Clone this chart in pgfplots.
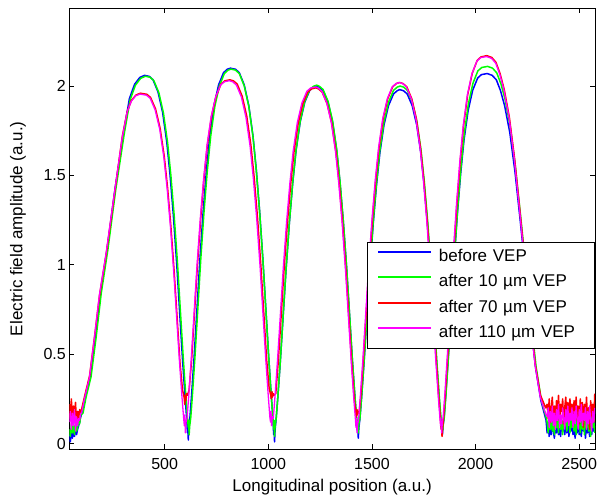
\documentclass[border=0pt]{standalone}
\usepackage{fontspec}
\setmainfont{Liberation Sans}
\usepackage{pgfplots}
\pgfplotsset{compat=1.18}
\definecolor{vblue}{RGB}{0,0,255}
\definecolor{vgreen}{RGB}{0,255,0}
\definecolor{vred}{RGB}{255,0,0}
\definecolor{vmag}{RGB}{255,0,255}

\begin{document}
\begin{tikzpicture}
\useasboundingbox (-69.3pt,-49.7pt) rectangle (527.7pt,449.3pt);
\begin{axis}[
  at={(0pt,0pt)}, anchor=south west,
  scale only axis, width=525.7pt, height=441pt,
  xmin=40, xmax=2576, ymin=-0.032, ymax=2.435,
  xtick={500,1000,1500,2000,2500},
  ytick={0,0.5,1,1.5,2},
  /pgf/number format/1000 sep={},
  /pgf/number format/assume math mode=true,
  tick align=inside, major tick length=5pt,
  tick style={black, line width=0.9pt},
  axis line style={black, line width=0.9pt},
  ticklabel style={font=\fontsize{16}{19}\selectfont},
  xticklabel style={yshift=-5pt},
  xlabel={Longitudinal position (a.u.)},
  ylabel={Electric field amplitude (a.u.)},
  label style={font=\fontsize{17}{20}\selectfont},
  xlabel style={at={(axis description cs:0.5,0)}, anchor=center, yshift=-38.3pt},
  ylabel style={at={(axis description cs:0,0.5)}, anchor=center, rotate=0, yshift=51.3pt},
  legend cell align=left,
  legend image code/.code={\draw[#1, line width=1.9pt] (0pt,5.5pt) -- (53.3pt,5.5pt);},
  legend style={
    at={(rel axis cs:0.5657,0.4707)}, anchor=north west,
    draw=black, line width=0.8pt, fill=white,
    font=\fontsize{17}{20}\selectfont,
    inner xsep=10pt, inner ysep=6.5pt,
    row sep=8.5pt,
    nodes={inner sep=0pt, text height=12.5pt, text depth=4.5pt},
    /tikz/every odd column/.append style={column sep=6.7pt},
    /tikz/every even column/.append style={text width=145.6pt},
  },
]
\addlegendimage{vblue}\addlegendentry{before VEP}
\addlegendimage{vgreen}\addlegendentry{after 10 µm VEP}
\addlegendimage{vred}\addlegendentry{after 70 µm VEP}
\addlegendimage{vmag}\addlegendentry{after 110 µm VEP}

% before VEP
\addplot[vblue, line width=1.5pt, line join=round, forget plot] coordinates {
(40,0.05)(45,0.01)(50,0.07)(55,0.03)(60,0.08)(65,0.04)(70,0.09)(75,0.05)(80,0.08)(85,0.10)(90,0.12)(95,0.15)
(101,0.17)(117,0.26)(141,0.374)(166,0.60)(190,0.84)(222,1.084)(260,1.42)(302,1.74)(330,1.93)(355,2.01)(380,2.048)(403,2.06)
(426,2.054)(444,2.035)(468,1.967)(490,1.854)(510,1.689)(526,1.504)(542,1.277)(558,1.009)(572,0.742)(586,0.474)(598,0.268)(606,0.144)
(610,0.06)(612,0.11)(614,0.02)(617,0.09)
(622,0.147)(630,0.273)(642,0.483)(656,0.756)(670,1.029)(686,1.302)(702,1.533)(718,1.722)(738,1.890)(760,2.006)(784,2.075)(802,2.094)(817,2.10)
(842,2.094)(860,2.075)(884,2.006)(906,1.890)(926,1.722)(942,1.533)(958,1.302)(974,1.029)(988,0.756)(1002,0.483)(1014,0.273)(1022,0.147)
(1026,0.05)(1028,0.12)(1030,0.01)(1033,0.08)
(1038,0.14)(1046,0.26)(1058,0.46)(1072,0.72)(1086,0.98)(1102,1.24)(1118,1.46)(1134,1.64)(1154,1.80)(1176,1.91)(1200,1.976)(1218,1.994)(1232,2.00)
(1246,1.994)(1264,1.976)(1288,1.91)(1310,1.80)(1330,1.64)(1346,1.46)(1362,1.24)(1378,0.98)(1392,0.72)(1406,0.46)(1418,0.26)(1426,0.14)
(1430,0.07)(1432,0.12)(1434,0.03)(1437,0.09)
(1442,0.139)(1450,0.257)(1462,0.455)(1476,0.713)(1490,0.970)(1506,1.228)(1522,1.445)(1538,1.624)(1558,1.782)(1580,1.891)(1604,1.956)(1622,1.974)(1634,1.98)
(1652,1.974)(1670,1.956)(1694,1.891)(1716,1.782)(1736,1.624)(1752,1.445)(1768,1.228)(1784,0.970)(1798,0.713)(1812,0.455)(1824,0.257)(1832,0.139)
(1836,0.08)(1838,0.12)(1840,0.05)(1843,0.10)
(1848,0.145)(1856,0.269)(1868,0.476)(1882,0.745)(1896,1.014)(1912,1.283)(1928,1.511)(1944,1.697)(1964,1.863)(1986,1.977)(2010,2.045)(2028,2.064)(2056,2.07)
(2080,2.06)(2100,2.035)(2120,1.975)(2140,1.89)(2165,1.74)(2190,1.52)(2215,1.25)(2240,0.97)(2265,0.68)(2290,0.42)(2315,0.24)(2340,0.13)
(2345,0.06)(2350,0.11)(2355,0.04)(2360,0.09)(2365,0.05)(2370,0.12)(2375,0.07)(2380,0.03)(2385,0.10)(2390,0.06)(2395,0.13)(2400,0.05)
(2405,0.09)(2410,0.04)(2415,0.11)(2420,0.07)(2425,0.12)(2430,0.05)(2435,0.10)(2440,0.06)(2445,0.13)(2450,0.04)(2455,0.09)(2460,0.07)
(2465,0.12)(2470,0.05)(2475,0.10)(2480,0.03)(2485,0.11)(2490,0.06)(2495,0.13)(2500,0.05)(2505,0.09)(2510,0.04)(2515,0.12)(2520,0.07)
(2525,0.10)(2530,0.03)(2535,0.11)(2540,0.06)(2545,0.12)(2550,0.04)(2555,0.09)(2560,0.05)(2565,0.11)(2570,0.07)(2575,0.12)
};

% after 10 um VEP
\addplot[vgreen, line width=1.5pt, line join=round, forget plot] coordinates {
(40,0.08)(45,0.04)(50,0.11)(55,0.06)(60,0.10)(65,0.05)(70,0.12)(75,0.07)(80,0.09)(85,0.12)(90,0.11)(95,0.16)
(106,0.17)(121,0.26)(145,0.374)(170,0.60)(194,0.84)(226,1.084)(264,1.42)(306,1.74)(334,1.925)(359,2.005)(384,2.043)(407,2.055)
(430,2.049)(448,2.030)(472,1.963)(494,1.850)(514,1.685)(530,1.500)(546,1.274)(562,1.007)(576,0.740)(590,0.473)(602,0.267)(610,0.144)
(614,0.09)(616,0.13)(618,0.05)(621,0.10)
(626,0.147)(634,0.272)(646,0.482)(660,0.754)(674,1.027)(690,1.299)(706,1.529)(722,1.718)(742,1.886)(764,2.001)(788,2.070)(806,2.089)(820,2.095)
(842,2.089)(860,2.070)(884,2.001)(906,1.886)(926,1.718)(942,1.529)(958,1.299)(974,1.027)(988,0.754)(1002,0.482)(1014,0.272)(1022,0.147)
(1026,0.08)(1028,0.13)(1030,0.04)(1033,0.10)
(1038,0.140)(1046,0.261)(1058,0.461)(1072,0.722)(1086,0.982)(1102,1.243)(1118,1.464)(1134,1.644)(1154,1.805)(1176,1.915)(1200,1.981)(1218,1.999)(1234,2.005)
(1246,1.999)(1264,1.981)(1288,1.915)(1310,1.805)(1330,1.644)(1346,1.464)(1362,1.243)(1378,0.982)(1392,0.722)(1406,0.461)(1418,0.261)(1426,0.140)
(1430,0.09)(1432,0.13)(1434,0.06)(1437,0.11)
(1442,0.14)(1450,0.26)(1462,0.46)(1476,0.72)(1490,0.98)(1506,1.24)(1522,1.46)(1538,1.64)(1558,1.80)(1580,1.91)(1604,1.976)(1622,1.994)(1636,2.00)
(1653,1.994)(1671,1.976)(1695,1.91)(1717,1.80)(1737,1.64)(1753,1.46)(1769,1.24)(1785,0.98)(1799,0.72)(1813,0.46)(1825,0.26)(1833,0.14)
(1837,0.09)(1839,0.13)(1841,0.07)(1844,0.11)
(1849,0.148)(1857,0.274)(1869,0.485)(1883,0.760)(1897,1.034)(1913,1.308)(1929,1.540)(1945,1.730)(1965,1.899)(1987,2.015)(2011,2.085)(2030,2.104)(2058,2.11)
(2082,2.10)(2102,2.074)(2122,2.013)(2142,1.927)(2167,1.774)(2192,1.549)(2217,1.274)(2242,0.989)(2267,0.693)(2292,0.428)(2317,0.245)(2342,0.14)
(2345,0.12)(2350,0.06)(2355,0.15)(2360,0.08)(2365,0.17)(2370,0.07)(2375,0.13)(2380,0.05)(2385,0.16)(2390,0.09)(2395,0.14)(2400,0.06)
(2405,0.18)(2410,0.08)(2415,0.13)(2420,0.05)(2425,0.15)(2430,0.10)(2435,0.17)(2440,0.07)(2445,0.12)(2450,0.16)(2455,0.06)(2460,0.14)
(2465,0.09)(2470,0.18)(2475,0.07)(2480,0.13)(2485,0.05)(2490,0.16)(2495,0.10)(2500,0.15)(2505,0.06)(2510,0.17)(2515,0.08)(2520,0.13)
(2525,0.05)(2530,0.15)(2535,0.09)(2540,0.18)(2545,0.07)(2550,0.14)(2555,0.04)(2560,0.16)(2565,0.09)(2570,0.13)(2575,0.06)
};

% after 70 um VEP
\addplot[vred, line width=1.5pt, line join=round, forget plot] coordinates {
(40,0.22)(45,0.14)(50,0.25)(55,0.12)(60,0.21)(65,0.16)(70,0.23)(75,0.11)(80,0.18)(85,0.14)(90,0.19)(95,0.17)
(101,0.20)(115,0.27)(138,0.38)(162,0.60)(186,0.83)(218,1.06)(256,1.38)(296,1.72)(320,1.86)(340,1.92)(362,1.95)(383,1.96)
(414,1.954)(432,1.936)(456,1.872)(478,1.764)(498,1.607)(514,1.431)(530,1.215)(546,0.960)(560,0.706)(574,0.451)(586,0.30)(594,0.26)
(597,0.22)(600,0.27)(602,0.24)(605,0.28)
(610,0.27)(618,0.30)(630,0.468)(644,0.733)(658,0.997)(674,1.262)(690,1.486)(706,1.669)(726,1.832)(748,1.943)(772,2.011)(790,2.029)(814,2.035)
(832,2.029)(850,2.011)(874,1.943)(896,1.832)(916,1.669)(932,1.486)(948,1.262)(964,0.997)(978,0.733)(992,0.468)(1004,0.31)(1012,0.27)
(1015,0.25)(1018,0.29)(1020,0.26)(1023,0.28)
(1028,0.27)(1036,0.28)(1048,0.458)(1062,0.716)(1076,0.975)(1092,1.234)(1108,1.453)(1124,1.632)(1144,1.791)(1166,1.900)(1190,1.966)(1208,1.984)(1230,1.99)
(1242,1.984)(1260,1.966)(1284,1.900)(1306,1.791)(1326,1.632)(1342,1.453)(1358,1.234)(1374,0.975)(1388,0.716)(1402,0.458)(1414,0.259)(1422,0.17)
(1425,0.15)(1428,0.19)(1430,0.16)(1433,0.18)
(1438,0.17)(1446,0.263)(1458,0.465)(1472,0.727)(1486,0.990)(1502,1.252)(1518,1.475)(1534,1.656)(1554,1.818)(1576,1.929)(1600,1.996)(1618,2.014)(1633,2.02)
(1650,2.014)(1668,1.996)(1692,1.929)(1714,1.818)(1734,1.656)(1750,1.475)(1766,1.252)(1782,0.990)(1796,0.727)(1810,0.465)(1822,0.263)(1830,0.141)
(1834,0.08)(1836,0.12)(1838,0.04)(1841,0.09)
(1846,0.152)(1854,0.282)(1866,0.499)(1880,0.781)(1894,1.063)(1910,1.345)(1926,1.584)(1942,1.779)(1962,1.953)(1984,2.072)(2008,2.144)(2026,2.163)(2054,2.17)
(2078,2.16)(2098,2.133)(2118,2.070)(2138,1.981)(2163,1.824)(2188,1.593)(2213,1.310)(2238,1.017)(2263,0.713)(2288,0.440)(2313,0.27)(2338,0.20)
(2345,0.22)(2350,0.14)(2355,0.25)(2360,0.12)(2365,0.20)(2370,0.26)(2375,0.13)(2380,0.21)(2385,0.10)(2390,0.24)(2395,0.16)(2400,0.27)
(2405,0.12)(2410,0.22)(2415,0.18)(2420,0.25)(2425,0.11)(2430,0.20)(2435,0.26)(2440,0.14)(2445,0.23)(2450,0.12)(2455,0.25)(2460,0.17)
(2465,0.22)(2470,0.10)(2475,0.24)(2480,0.15)(2485,0.26)(2490,0.13)(2495,0.21)(2500,0.11)(2505,0.25)(2510,0.16)(2515,0.23)(2520,0.09)
(2525,0.22)(2530,0.14)(2535,0.26)(2540,0.12)(2545,0.20)(2550,0.08)(2555,0.24)(2560,0.15)(2565,0.22)(2570,0.12)(2575,0.28)
};

% after 110 um VEP
\addplot[vmag, line width=1.3pt, line join=round, forget plot] coordinates {
(40,0.12)(45,0.18)(50,0.08)(55,0.17)(60,0.10)(65,0.19)(70,0.07)(75,0.15)(80,0.10)(85,0.14)(90,0.13)(95,0.17)
(99,0.17)(113,0.25)(137,0.37)(161,0.59)(185,0.83)(217,1.06)(255,1.38)(295,1.71)(319,1.855)(339,1.915)(360,1.945)(381,1.955)
(412,1.949)(430,1.932)(454,1.867)(476,1.760)(496,1.603)(512,1.427)(528,1.212)(544,0.958)(558,0.704)(572,0.450)(584,0.254)(592,0.137)
(595,0.10)(597,0.16)(600,0.06)(603,0.12)
(608,0.142)(616,0.264)(628,0.467)(642,0.731)(656,0.995)(672,1.259)(688,1.482)(704,1.665)(724,1.827)(746,1.939)(770,2.006)(788,2.024)(812,2.03)
(828,2.024)(846,2.006)(870,1.939)(892,1.827)(912,1.665)(928,1.482)(944,1.259)(960,0.995)(974,0.731)(988,0.467)(1000,0.264)(1008,0.142)
(1011,0.12)(1013,0.18)(1016,0.10)(1019,0.15)
(1024,0.140)(1032,0.259)(1044,0.459)(1058,0.718)(1072,0.978)(1088,1.237)(1104,1.456)(1120,1.636)(1140,1.796)(1162,1.905)(1186,1.971)(1204,1.989)(1229,1.995)
(1240,1.989)(1258,1.971)(1282,1.905)(1304,1.796)(1324,1.636)(1340,1.456)(1356,1.237)(1372,0.978)(1386,0.718)(1400,0.459)(1412,0.259)(1420,0.140)
(1423,0.09)(1425,0.14)(1428,0.06)(1431,0.11)
(1436,0.141)(1444,0.263)(1456,0.465)(1470,0.727)(1484,0.990)(1500,1.252)(1516,1.475)(1532,1.656)(1552,1.818)(1574,1.929)(1598,1.996)(1616,2.014)(1632,2.02)
(1648,2.014)(1666,1.996)(1690,1.929)(1712,1.818)(1732,1.656)(1748,1.475)(1764,1.252)(1780,0.990)(1794,0.727)(1808,0.465)(1820,0.263)(1828,0.141)
(1831,0.10)(1833,0.14)(1836,0.06)(1839,0.11)
(1844,0.152)(1852,0.281)(1864,0.498)(1878,0.779)(1892,1.061)(1908,1.342)(1924,1.580)(1940,1.775)(1960,1.949)(1982,2.068)(2006,2.139)(2024,2.159)(2053,2.165)
(2077,2.155)(2097,2.128)(2117,2.065)(2137,1.977)(2162,1.82)(2187,1.59)(2212,1.307)(2237,1.015)(2262,0.71)(2287,0.44)(2312,0.26)(2337,0.17)
(2345,0.15)(2350,0.20)(2355,0.09)(2360,0.18)(2365,0.12)(2370,0.21)(2375,0.10)(2380,0.17)(2385,0.08)(2390,0.19)(2395,0.13)(2400,0.22)
(2405,0.09)(2410,0.16)(2415,0.11)(2420,0.20)(2425,0.14)(2430,0.08)(2435,0.19)(2440,0.12)(2445,0.21)(2450,0.10)(2455,0.17)(2460,0.13)
(2465,0.20)(2470,0.09)(2475,0.18)(2480,0.11)(2485,0.21)(2490,0.14)(2495,0.08)(2500,0.19)(2505,0.12)(2510,0.22)(2515,0.10)(2520,0.17)
(2525,0.13)(2530,0.20)(2535,0.08)(2540,0.18)(2545,0.11)(2550,0.21)(2555,0.13)(2560,0.07)(2565,0.18)(2570,0.12)(2575,0.20)
};
\end{axis}
\end{tikzpicture}
\end{document}
